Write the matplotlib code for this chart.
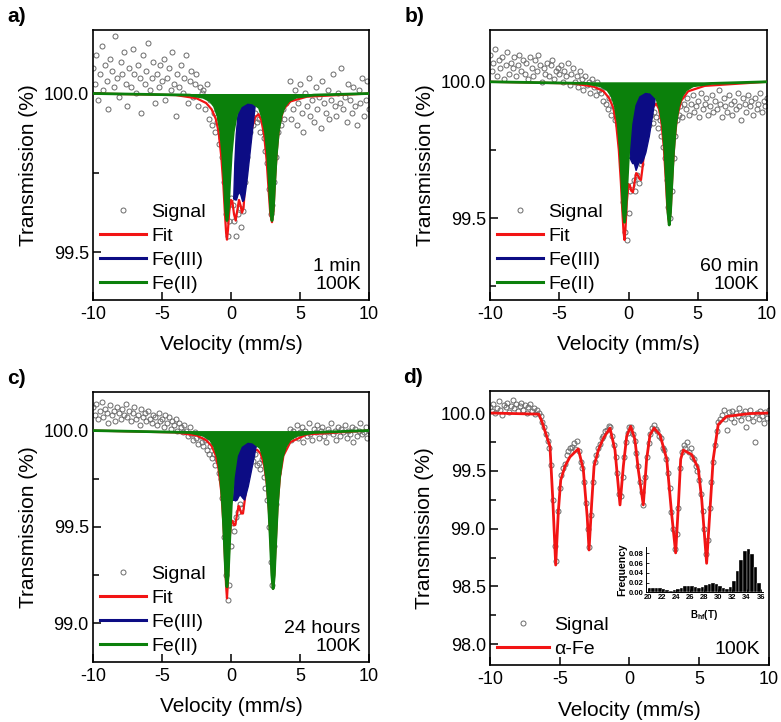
import numpy as np
import matplotlib
matplotlib.use("Agg")
import matplotlib.pyplot as plt
from matplotlib.ticker import FormatStrFormatter

plt.rcParams["font.family"] = ["Liberation Sans", "DejaVu Sans"]
plt.rcParams["mathtext.fontset"] = "custom"
plt.rcParams["mathtext.rm"] = "Liberation Sans"
plt.rcParams["mathtext.bf"] = "Liberation Sans:bold"
plt.rcParams["axes.unicode_minus"] = False

RED = "#f21414"
NAVY = "#0c0c84"
GREEN = "#0b800b"
GREY = "#6a6a6a"

# ---- signal: deviation from 100 % in units of 0.01 %, one value per channel
sig_a = [8, 3, 12, -2, 6, 15, 1, 9, 4, -5, 11, 7, 2, 18, 5, -1, 10, 6, 13, 3,
         -4, 8, 2, 14, 6, 0, 9, 5, -6, 12, 3, 7, 16, 1, 5, 10, -3, 6, 2, 9,
         4, 11, -2, 5, 8, 1, 13, 3, -7, 6, 2, 9, 0, 5, 12, -3, 4, 7, -1, 3,
         6, -4, 2, 0,
         1, -5, 3, -8, -2, -10, -6, -12, -9, -16, -14,
         -20, -28, -38, -45, -40, -33,
         -35, -40, -45, -38, -36, -42, -37,
         -28, -20, -15, -12, -8, -10, -6, -9,
         -8, -12, -5, -14, -18, -22,
         -30, -38, -35, -28, -20,
         -12, -8, -10, -5, -8, -3,
         -2, 4, -8, -5, 1, -10, -3, 3, -6, -12, 0, -4, 5, -7, -2, -9, 2, -5, -1, -11,
         4, -3, -6, 1, -8, -2, 6, -4, -7, 0, -3, 8, -5, -1, -9, 3, -2, -6, 2, -4,
         -10, 1, -3, 5, -7, -2, 4, -5]

sig_b = [10, 4, 7, 12, 2, 8, 5, 9, 1, 6, 11, 3, 7, 5, 9, 2, 6, 10, 4, 8,
         3, 7, 1, 9, 5, 2, 8, 4, 10, 6, 0, 5, 3, 7, 2, 6, 8, 1, 4, 5,
         3, 6, 0, 4, 2, 7, -1, 3, 5, 0, 2, -2, 4, 1, -3, 2, -1, 0, -4, 1,
         -2, -5, 0, -3,
         -4, -7, -2, -8, -10, -6, -12, -9, -14, -11, -16,
         -22, -32, -44, -55, -58, -48,
         -40, -38, -36, -40, -34, -37, -30,
         -25, -20, -18, -14, -16, -12, -15, -11,
         -13, -17, -14, -20, -24, -28,
         -36, -46, -50, -40, -28,
         -20, -14, -12, -9, -13, -8,
         -10, -6, -12, -8, -5, -11, -9, -7, -13, -4, -10, -8, -6, -12, -9, -5, -11, -7, -10, -3,
         -8, -13, -6, -9, -11, -5, -8, -12, -7, -10, -4, -9, -14, -6, -8, -11, -5, -9, -7, -12,
         -6, -10, -8, -4, -11, -7, -9, -6]

sig_c = [12, 8, 14, 6, 10, 15, 7, 11, 9, 4, 13, 8, 10, 5, 12, 9, 6, 11, 8, 14,
         7, 10, 5, 9, 12, 6, 8, 3, 11, 7, 9, 5, 10, 6, 4, 8, 7, 3, 9, 5,
         6, 2, 8, 4, 7, 1, 5, 3, 6, 0, 4, 2, -1, 3, 0, -3, 2, -2, -5, -1,
         -4, -7, -3, -6,
         -8, -5, -10, -12, -8, -14, -12, -18, -15, -22, -25,
         -35, -55, -75, -88, -80, -60,
         -48, -52, -45, -42, -38, -40, -33,
         -28, -22, -18, -15, -13, -16, -12, -18,
         -17, -20, -15, -24, -30, -36,
         -50, -68, -80, -60, -38,
         -22, -15, -10, -8, -6, -5,
         -3, 1, -5, 0, -2, 3, -4, -1, 2, -6, 0, -3, 4, -2, -5, 1, -1, 3, -4, 0,
         2, -3, -6, 1, -1, 4, -2, 0, -5, 2, -3, 1, -1, 3, -4, 0, -2, 2, -6, 1,
         -3, 0, 4, -2, -1, 2, -4, 0]

sig_d = [5, 2, 8, 0, 4, 10, 3, -2, 7, 5, 9, 1, 6, 11, 4, 8, 2, 6, 9, 3, 7, 0, 5, 8, 2, 4, -1, 3,
         0, -3, -8, -12, -18, -24, -30, -45, -75,
         -115, -128, -85, -65, -54, -48, -44, -36, -33, -30, -29, -26, -31, -24,
         -33, -42, -48, -60, -78, -100, -116, -88, -60, -42,
         -36, -30, -27, -22, -20, -16, -15, -11, -12, -20,
         -28, -38, -52, -70, -72, -55, -38, -25, -17, -12,
         -12, -18, -24, -35, -46, -60, -68, -80, -55, -38,
         -26, -18, -13, -10, -14, -16, -20, -22, -30, -32,
         -40, -52, -65, -86, -100, -118, -105, -82, -48, -34,
         -28, -30, -25, -34, -30, -38, -40, -46, -50, -58,
         -70, -85, -100, -122, -110, -82, -60, -42, -28, -16, -8, -5,
         -2, 3, -5, -15, 1, -4, 2, -8, 0, -3, 4, -6, -1, 2, -12, -4, 3, -2, -7, -25,
         0, -5, 2, -3, -9, 1, -4, 3]

# ---- fitted envelopes (velocity mm/s, transmission %)
fit_a_x = [-10, -4, -2.5, -1.8, -1.4, -1.1, -0.9, -0.7, -0.55, -0.45, -0.35, -0.29, -0.22, -0.12,
           0.0, 0.1, 0.22, 0.34, 0.45, 0.58, 0.68, 0.8, 0.91, 1.0, 1.2, 1.45, 1.75, 2.0, 2.2, 2.4,
           2.58, 2.72, 2.85, 2.97, 3.08, 3.18, 3.32, 3.5, 3.8, 4.3, 5.5, 10]
fit_a_y = [100.0, 99.995, 99.985, 99.97, 99.95, 99.92, 99.88, 99.80, 99.71, 99.63, 99.56, 99.54,
           99.57, 99.63, 99.665, 99.66, 99.62, 99.60, 99.63, 99.665, 99.65, 99.625, 99.64, 99.70,
           99.80, 99.88, 99.925, 99.935, 99.915, 99.87, 99.79, 99.70, 99.62, 99.595, 99.63, 99.72,
           99.82, 99.90, 99.95, 99.975, 99.99, 100.0]
fe2_a_x = [-10, -3, -2, -1.5, -1.2, -0.95, -0.75, -0.6, -0.48, -0.38, -0.29, -0.2, -0.1, 0.02,
           0.17, 0.4, 0.7, 1.2, 1.6, 2.06, 2.31, 2.51, 2.66, 2.78, 2.88, 2.97, 3.06, 3.16, 3.28,
           3.43, 3.63, 3.88, 4.18, 4.7, 6, 10]
fe2_a_y = [100, 99.995, 99.988, 99.977, 99.96, 99.93, 99.88, 99.81, 99.72, 99.63, 99.60, 99.63,
           99.72, 99.81, 99.88, 99.935, 99.96, 99.973, 99.97, 99.955, 99.92, 99.875, 99.805, 99.715,
           99.63, 99.60, 99.63, 99.715, 99.805, 99.88, 99.93, 99.96, 99.977, 99.988, 99.995, 100]
fe3_a_x = [0.2, 0.28, 0.38, 0.5, 0.62, 0.9, 1.2, 1.5, 1.75, 1.6, 1.4, 1.2, 1.05, 0.95, 0.85,
           0.72, 0.6, 0.5, 0.4, 0.3]
fe3_a_y = [99.67, 99.78, 99.87, 99.93, 99.963, 99.97, 99.97, 99.968, 99.96, 99.90, 99.82, 99.74,
           99.69, 99.665, 99.66, 99.68, 99.69, 99.68, 99.665, 99.665]

fit_b_x = [-10, -4, -2.5, -1.8, -1.4, -1.1, -0.9, -0.7, -0.55, -0.45, -0.36, -0.29, -0.22, -0.12,
           0.0, 0.1, 0.2, 0.32, 0.45, 0.55, 0.65, 0.78, 0.9, 1.0, 1.2, 1.45, 1.75, 2.0, 2.2, 2.38,
           2.55, 2.68, 2.8, 2.94, 3.06, 3.18, 3.32, 3.5, 3.8, 4.3, 5.5, 10]
fit_b_y = [100.0, 99.994, 99.982, 99.965, 99.94, 99.905, 99.85, 99.75, 99.63, 99.53, 99.45, 99.42,
           99.46, 99.56, 99.625, 99.62, 99.60, 99.595, 99.635, 99.665, 99.66, 99.645, 99.64, 99.68,
           99.78, 99.86, 99.905, 99.92, 99.9, 99.85, 99.76, 99.65, 99.54, 99.475, 99.54, 99.67,
           99.78, 99.87, 99.93, 99.965, 99.985, 100.0]
fe2_b_x = [-10, -3, -2, -1.5, -1.2, -0.95, -0.75, -0.6, -0.48, -0.38, -0.29, -0.2, -0.1, 0.02,
           0.17, 0.4, 0.7, 1.2, 1.6, 2.03, 2.28, 2.48, 2.63, 2.75, 2.85, 2.94, 3.03, 3.13, 3.25,
           3.40, 3.60, 3.85, 4.15, 4.65, 6, 10]
fe2_b_y = [100, 99.994, 99.985, 99.97, 99.948, 99.91, 99.845, 99.753, 99.634, 99.526, 99.485,
           99.526, 99.634, 99.753, 99.845, 99.915, 99.95, 99.965, 99.962, 99.94, 99.9, 99.84,
           99.745, 99.63, 99.52, 99.475, 99.52, 99.63, 99.745, 99.84, 99.91, 99.948, 99.97,
           99.985, 99.994, 100]
fe3_b_x = [0.12, 0.18, 0.28, 0.42, 0.6, 0.9, 1.3, 1.7, 1.95, 1.75, 1.5, 1.25, 1.05, 0.9, 0.78,
           0.66, 0.55, 0.42, 0.3, 0.2]
fe3_b_y = [99.72, 99.82, 99.9, 99.94, 99.955, 99.96, 99.96, 99.955, 99.945, 99.88, 99.80, 99.74,
           99.71, 99.70, 99.71, 99.69, 99.675, 99.70, 99.70, 99.71]

fit_c_x = [-10, -4, -2.5, -1.8, -1.4, -1.1, -0.9, -0.7, -0.55, -0.45, -0.36, -0.29, -0.22, -0.12,
           0.02, 0.12, 0.2, 0.31, 0.45, 0.55, 0.62, 0.75, 0.87, 1.0, 1.2, 1.45, 1.7, 1.9, 2.15,
           2.4, 2.6, 2.75, 2.88, 2.97, 3.05, 3.14, 3.25, 3.38, 3.55, 3.8, 4.3, 5.5, 10]
fit_c_y = [100.0, 99.99, 99.975, 99.95, 99.92, 99.87, 99.80, 99.68, 99.52, 99.36, 99.2, 99.13,
           99.22, 99.42, 99.535, 99.53, 99.51, 99.51, 99.57, 99.61, 99.6, 99.57, 99.57, 99.64,
           99.77, 99.86, 99.895, 99.90, 99.88, 99.82, 99.72, 99.58, 99.41, 99.26, 99.18, 99.26,
           99.43, 99.62, 99.76, 99.87, 99.94, 99.98, 100.0]
fe2_c_x = [-10, -3, -2, -1.5, -1.2, -0.95, -0.75, -0.6, -0.48, -0.38, -0.29, -0.2, -0.1, 0.02,
           0.17, 0.4, 0.7, 1.2, 1.6, 2.14, 2.39, 2.59, 2.74, 2.86, 2.96, 3.05, 3.14, 3.24, 3.36,
           3.51, 3.71, 3.96, 4.26, 4.76, 6, 10]
fe2_c_y = [100, 99.99, 99.976, 99.953, 99.919, 99.862, 99.757, 99.611, 99.425, 99.255, 99.19,
           99.255, 99.425, 99.611, 99.757, 99.87, 99.92, 99.945, 99.94, 99.91, 99.855, 99.75,
           99.60, 99.42, 99.25, 99.18, 99.25, 99.42, 99.605, 99.755, 99.86, 99.918, 99.952,
           99.975, 99.99, 100]
fe3_c_x = [0.19, 0.24, 0.3, 0.38, 0.5, 0.8, 1.2, 1.6, 1.88, 1.7, 1.45, 1.25, 1.1, 0.99, 0.85,
           0.7, 0.58, 0.45, 0.32, 0.24]
fe3_c_y = [99.64, 99.74, 99.84, 99.9, 99.935, 99.945, 99.945, 99.943, 99.935, 99.87, 99.78,
           99.71, 99.67, 99.64, 99.65, 99.665, 99.66, 99.64, 99.635, 99.64]

fit_d_x = [-10, -6.5, -6.29, -5.7, -5.51, -5.29, -5.1, -4.93, -4.62, -4.27, -3.67, -3.31, -3.03,
           -2.9, -2.71, -2.54, -2.23, -1.88, -1.4, -1.04, -0.68, -0.44, -0.2, 0.09, 0.39, 0.63,
           0.99, 1.23, 1.47, 1.76, 2.19, 2.67, 3.02, 3.31, 3.5, 3.67, 3.86, 4.46, 4.93, 5.18,
           5.53, 5.77, 6.0, 6.36, 6.96, 8.6, 10]
fit_d_y = [100.0, 99.99, 99.93, 99.71, 99.28, 98.685, 99.15, 99.42, 99.54, 99.62, 99.69, 99.51,
           99.10, 98.815, 99.22, 99.54, 99.68, 99.78, 99.87, 99.68, 99.205, 99.54, 99.80, 99.885,
           99.77, 99.51, 99.205, 99.6, 99.81, 99.87, 99.81, 99.6, 99.13, 98.79, 99.19, 99.6,
           99.68, 99.64, 99.52, 99.25, 98.70, 99.16, 99.6, 99.90, 99.97, 99.995, 100.0]

# ---- hyperfine field distribution (inset), bins of 0.5 T starting at 20 T
bhf_start = np.arange(20.0, 36.0, 0.5)
bhf_freq = [0.008, 0.009, 0.009, 0.008, 0.006, 0.004, 0.0035, 0.004, 0.006, 0.009, 0.012, 0.014,
            0.013, 0.011, 0.009, 0.011, 0.015, 0.018, 0.019, 0.017, 0.013, 0.009, 0.007, 0.010,
            0.024, 0.044, 0.066, 0.084, 0.090, 0.078, 0.052, 0.020]

TICK_FS = 13
LABEL_FS = 15
LEG_FS = 14


def channels(sig):
    # velocity channels spanning the sweep, transmission in %
    v = np.linspace(-10, 10, len(sig))
    return v, 100 + np.asarray(sig) / 100.0


def style_axes(ax, ylim, major, minor):
    ax.set_xlim(-10, 10)
    ax.set_ylim(*ylim)
    ax.set_xticks([-10, -5, 0, 5, 10])
    ax.set_yticks(major)
    ax.set_yticks(minor, minor=True)
    ax.yaxis.set_major_formatter(FormatStrFormatter("%.1f"))
    ax.tick_params(which="both", direction="in", width=1.1, labelsize=TICK_FS)
    ax.tick_params(which="major", length=6)
    ax.tick_params(which="minor", length=4)
    ax.tick_params(axis="x", pad=4)
    ax.tick_params(axis="y", pad=3)
    for s in ax.spines.values():
        s.set_linewidth(1.2)
    ax.set_xlabel("Velocity (mm/s)", fontsize=LABEL_FS)
    ax.set_ylabel("Transmission (%)", fontsize=LABEL_FS)
    ax.xaxis.set_label_coords(0.5, -0.13)
    ax.yaxis.set_label_coords(-0.2, 0.5)


def draw_doublets(ax, sig, fit, fe2, fe3):
    v, t = channels(sig)
    ax.plot(v, t, "o", ls="none", mfc="none", mec=GREY, ms=3.6, mew=0.7, label="Signal", zorder=1)
    ax.plot(fit[0], fit[1], color=RED, lw=1.6, label="Fit", zorder=2)
    ax.fill(fe3[0], fe3[1], color=NAVY, lw=0, zorder=3)
    ax.plot(fe3[0] + fe3[0][:1], fe3[1] + fe3[1][:1], color=NAVY, lw=1.0, label="Fe(III)", zorder=3)
    ax.fill_between(fe2[0], fe2[1], 100, color=GREEN, lw=0, zorder=4)
    ax.plot(fe2[0], fe2[1], color=GREEN, lw=2.0, label="Fe(II)", zorder=4)


def add_legend(ax):
    leg = ax.legend(loc="lower left", frameon=False, fontsize=LEG_FS, handlelength=2.4,
                    handletextpad=0.25, labelspacing=0.33, borderaxespad=0.15, borderpad=0.2)
    for h in leg.get_lines()[1:]:
        h.set_linewidth(2.2)
    return leg


def corner_text(ax, s):
    ax.text(0.97, 0.025, s, transform=ax.transAxes, ha="right", va="bottom",
            fontsize=LEG_FS, linespacing=1.12)


fig = plt.figure(figsize=(7.81, 7.22), dpi=100)

ax_a = fig.add_axes([0.119, 0.5845, 0.3535, 0.374])
ax_b = fig.add_axes([0.6274, 0.5845, 0.3547, 0.374])
ax_c = fig.add_axes([0.119, 0.0831, 0.3535, 0.374])
ax_d = fig.add_axes([0.6274, 0.0789, 0.3572, 0.3795])

draw_doublets(ax_a, sig_a, (fit_a_x, fit_a_y), (fe2_a_x, fe2_a_y), (fe3_a_x, fe3_a_y))
style_axes(ax_a, (99.35, 100.2), [99.5, 100.0], [99.75])
add_legend(ax_a)
corner_text(ax_a, "1 min\n100K")

draw_doublets(ax_b, sig_b, (fit_b_x, fit_b_y), (fe2_b_x, fe2_b_y), (fe3_b_x, fe3_b_y))
style_axes(ax_b, (99.2, 100.19), [99.5, 100.0], [99.25, 99.75])
add_legend(ax_b)
corner_text(ax_b, "60 min\n100K")

draw_doublets(ax_c, sig_c, (fit_c_x, fit_c_y), (fe2_c_x, fe2_c_y), (fe3_c_x, fe3_c_y))
style_axes(ax_c, (98.8, 100.2), [99.0, 99.5, 100.0], [99.25, 99.75])
add_legend(ax_c)
corner_text(ax_c, "24 hours\n100K")

vd, td = channels(sig_d)
ax_d.plot(vd, td, "o", ls="none", mfc="none", mec=GREY, ms=3.6, mew=0.7, label="Signal", zorder=1)
ax_d.plot(fit_d_x, fit_d_y, color=RED, lw=2.0, label="α-Fe", zorder=2)
style_axes(ax_d, (97.82, 100.19), [98.0, 98.5, 99.0, 99.5, 100.0], [98.25, 98.75, 99.25, 99.75])
leg_d = ax_d.legend(loc="lower left", frameon=False, fontsize=LEG_FS, handlelength=2.7,
                    handletextpad=0.25, labelspacing=0.33, borderaxespad=0.15, borderpad=0.2)
leg_d.get_lines()[1].set_linewidth(2.2)
corner_text(ax_d, "100K")

for ax, lab in zip([ax_a, ax_b, ax_c, ax_d], ["a)", "b)", "c)", "d)"]):
    ax.text(-0.31, 1.085, lab, transform=ax.transAxes, fontsize=15, fontweight="bold",
            ha="left", va="top")

ins = fig.add_axes([0.8268, 0.1796, 0.1498, 0.0634])
ins.patch.set_alpha(0)
ins.bar(bhf_start, bhf_freq, width=0.5, align="edge", color="black", edgecolor="white", lw=0.25)
ins.set_xlim(19.7, 36.3)
ins.set_ylim(0, 0.094)
ins.set_xticks(range(20, 37, 2))
ins.set_yticks([0.0, 0.02, 0.04, 0.06, 0.08])
ins.yaxis.set_major_formatter(FormatStrFormatter("%.2f"))
ins.tick_params(direction="in", length=2, width=0.6, labelsize=5.5, pad=1.5)
for t in ins.get_xticklabels() + ins.get_yticklabels():
    t.set_fontweight("bold")
ins.spines["top"].set_visible(False)
ins.spines["right"].set_visible(False)
for s in ["left", "bottom"]:
    ins.spines[s].set_linewidth(0.7)
ins.set_xlabel(r"B$_{\mathbf{hf}}$(T)", fontsize=7, fontweight="bold", labelpad=5)
ins.set_ylabel("Frequency", fontsize=7.5, fontweight="bold", labelpad=1)

fig.savefig("out.png", dpi=100)
